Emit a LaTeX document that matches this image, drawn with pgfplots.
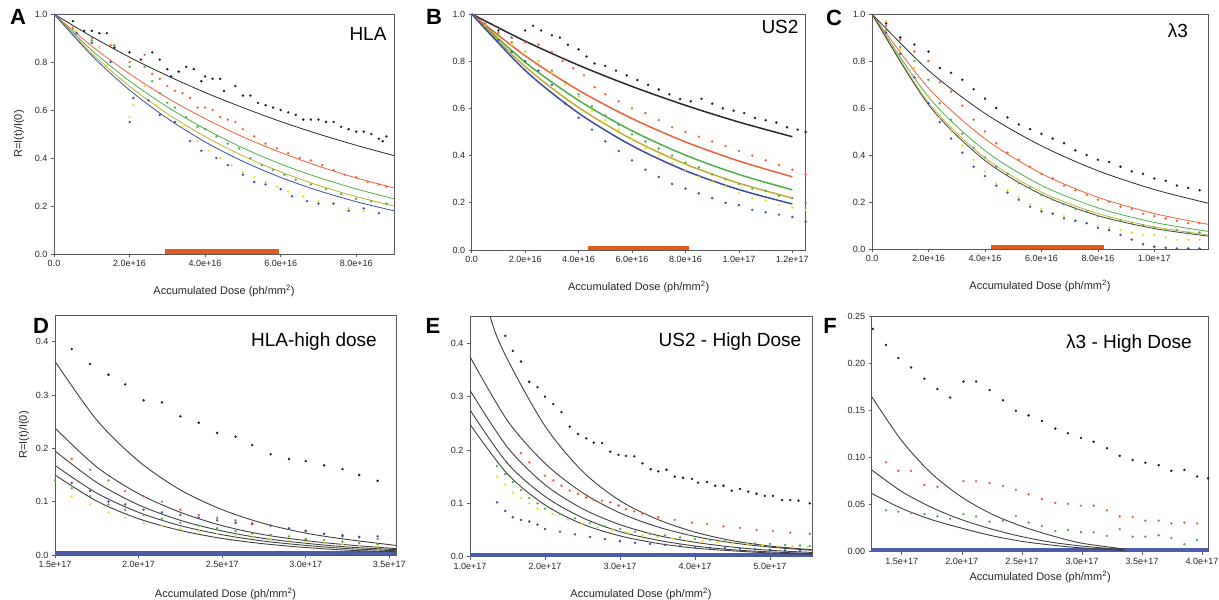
\documentclass[border=0pt]{standalone}
\usepackage{fontspec}
\setmainfont{Liberation Sans}
\usepackage{pgfplots}
\pgfplotsset{compat=1.18}

\definecolor{axgray}{HTML}{5A5A5A}
\definecolor{dotK}{HTML}{1E1E1E}
\definecolor{lineK}{HTML}{2A2A2A}
\definecolor{fitgray}{HTML}{404040}
\definecolor{redO}{HTML}{EC6139}
\definecolor{greenG}{HTML}{4DAF4A}
\definecolor{yelDot}{HTML}{EEDD22}
\definecolor{yelLine}{HTML}{C2AE2A}
\definecolor{blueB}{HTML}{3B4DA3}
\definecolor{barO}{HTML}{E35A1D}
\definecolor{bandB}{HTML}{4A5DA8}

\pgfplotsset{
  panel/.style={scale only axis, anchor=north west,
    axis line style={draw=axgray, line width=0.8pt},
    tick align=outside, tick pos=left, major tick length=3pt,
    tick style={draw=axgray, line width=0.6pt},
    tick label style={font=\fontsize{9}{10}\selectfont, text=black!85},
    label style={font=\fontsize{11}{12}\selectfont, text=black!85},
    xlabel={Accumulated Dose (ph/mm\textsuperscript{2})},
    xlabel style={yshift=-11pt}},
  fitline/.style={no marks, line width=0.8pt, smooth},
  dot/.style={only marks, mark=*, mark size=1pt},
  dfit/.style={no marks, draw=fitgray, line width=0.9pt, smooth}
}

\begin{document}
\begin{tikzpicture}
\useasboundingbox (0pt,0pt) rectangle (1219pt,600pt);

% ---------------- A : HLA ----------------
\begin{axis}[panel, at={(54pt,586pt)}, width=340pt, height=240pt,
  xmin=0, xmax=9, ymin=0, ymax=1,
  xtick={0,2,4,6,8}, xticklabels={0.0,2.0e+16,4.0e+16,6.0e+16,8.0e+16},
  ytick={0,0.2,0.4,0.6,0.8,1}, yticklabels={0.0,0.2,0.4,0.6,0.8,1.0},
  ylabel={R=I(t)/I(0)}, ylabel style={yshift=4pt}]
  \addplot[dot, color=dotK] coordinates {
    (0.5,0.97)(0.8,0.93)(1.0,0.93)(1.2,0.92)(1.4,0.92)(1.6,0.86)(2.0,0.84)(2.3,0.81)
    (2.6,0.84)(2.8,0.81)(3.0,0.77)(3.1,0.74)(3.3,0.76)(3.5,0.78)(3.7,0.77)(3.9,0.72)
    (4.0,0.74)(4.2,0.73)(4.4,0.73)(4.5,0.68)(4.8,0.70)(5.0,0.66)(5.2,0.66)(5.4,0.63)
    (5.6,0.62)(5.8,0.61)(6.0,0.60)(6.2,0.59)(6.4,0.58)(6.6,0.56)(6.8,0.56)(7.0,0.56)
    (7.2,0.55)(7.4,0.55)(7.6,0.53)(7.8,0.52)(8.0,0.51)(8.2,0.51)(8.4,0.50)(8.6,0.48)
    (8.7,0.47)(8.8,0.49)};
  \addplot[dot, color=redO] coordinates {
    (0.5,0.95)(1.0,0.90)(1.5,0.87)(2.0,0.80)(2.4,0.83)(2.6,0.75)(2.8,0.73)(3.0,0.70)
    (3.2,0.68)(3.4,0.67)(3.6,0.65)(3.8,0.61)(4.0,0.61)(4.2,0.60)(4.4,0.57)(4.6,0.56)
    (4.8,0.55)(5.0,0.52)(5.3,0.49)(5.6,0.46)(5.9,0.44)(6.2,0.42)(6.5,0.40)(6.8,0.39)
    (7.1,0.37)(7.4,0.35)(7.7,0.33)(8.0,0.32)(8.3,0.30)(8.6,0.29)(8.8,0.28)};
  \addplot[dot, color=greenG] coordinates {
    (0.5,0.94)(1.0,0.89)(1.6,0.87)(2.0,0.78)(2.4,0.78)(2.6,0.72)(2.8,0.67)(3.0,0.63)
    (3.2,0.61)(3.5,0.57)(3.8,0.53)(4.0,0.52)(4.3,0.49)(4.6,0.46)(4.9,0.44)(5.2,0.40)
    (5.5,0.37)(5.8,0.35)(6.1,0.33)(6.4,0.31)(6.8,0.29)(7.2,0.27)(7.6,0.25)(8.0,0.23)
    (8.4,0.22)(8.8,0.21)};
  \addplot[dot, color=yelDot] coordinates {
    (0.6,0.93)(1.2,0.86)(2.0,0.57)(2.1,0.62)(2.4,0.70)(2.7,0.62)(3.0,0.57)(3.4,0.53)
    (3.8,0.47)(4.1,0.43)(4.4,0.40)(4.7,0.37)(5.0,0.34)(5.3,0.32)(5.6,0.30)(5.9,0.28)
    (6.2,0.26)(6.6,0.24)(7.0,0.22)(7.4,0.21)(7.8,0.19)(8.2,0.18)(8.6,0.17)};
  \addplot[dot, color=blueB] coordinates {
    (0.6,0.92)(1.0,0.88)(1.5,0.80)(2.0,0.55)(2.1,0.65)(2.5,0.64)(2.8,0.58)(3.2,0.55)
    (3.6,0.47)(3.9,0.43)(4.3,0.40)(4.6,0.37)(5.0,0.33)(5.3,0.30)(5.6,0.29)(6.0,0.27)
    (6.3,0.24)(6.7,0.22)(7.0,0.21)(7.4,0.21)(7.8,0.18)(8.2,0.19)(8.6,0.17)};
  \addplot[fitline, draw=lineK] coordinates {
    (0,1)(1,0.906)(2,0.820)(3,0.743)(4,0.673)(5,0.610)(6,0.552)(7,0.500)(8,0.453)(9,0.410)};
  \addplot[fitline, draw=redO] coordinates {
    (0,1)(1,0.866)(2,0.751)(3,0.650)(4,0.564)(5,0.488)(6,0.423)(7,0.366)(8,0.317)(9,0.275)};
  \addplot[fitline, draw=greenG] coordinates {
    (0,1)(1,0.849)(2,0.721)(3,0.613)(4,0.521)(5,0.442)(6,0.375)(7,0.319)(8,0.271)(9,0.230)};
  \addplot[fitline, draw=yelLine] coordinates {
    (0,1)(1,0.836)(2,0.699)(3,0.585)(4,0.489)(5,0.409)(6,0.342)(7,0.286)(8,0.239)(9,0.200)};
  \addplot[fitline, draw=blueB] coordinates {
    (0,1)(1,0.827)(2,0.683)(3,0.565)(4,0.467)(5,0.386)(6,0.319)(7,0.264)(8,0.218)(9,0.180)};
  \addplot[no marks, draw=barO, line width=4.5pt] coordinates {(2.95,0.0095)(5.95,0.0095)};
\end{axis}

% ---------------- B : US2 ----------------
\begin{axis}[panel, at={(471.7pt,586pt)}, width=334pt, height=236pt,
  xmin=0, xmax=12.5, ymin=0, ymax=1,
  xtick={0,2,4,6,8,10,12},
  xticklabels={0.0,2.0e+16,4.0e+16,6.0e+16,8.0e+16,1.0e+17,1.2e+17},
  ytick={0,0.2,0.4,0.6,0.8,1}, yticklabels={0.0,0.2,0.4,0.6,0.8,1.0}]
  \addplot[dot, color=dotK] coordinates {
    (0.5,0.95)(1,0.93)(1.5,0.90)(2,0.93)(2.3,0.95)(2.6,0.93)(3,0.91)(3.3,0.90)(3.6,0.87)
    (4,0.85)(4.3,0.82)(4.6,0.79)(5,0.78)(5.4,0.76)(5.8,0.74)(6.2,0.72)(6.6,0.70)(7,0.68)
    (7.4,0.66)(7.8,0.64)(8.2,0.63)(8.6,0.64)(9,0.62)(9.4,0.60)(9.8,0.59)(10.2,0.58)
    (10.6,0.56)(11,0.55)(11.4,0.54)(11.8,0.52)(12.2,0.51)(12.5,0.50)};
  \addplot[dot, color=redO] coordinates {
    (0.5,0.96)(1,0.92)(1.5,0.90)(2,0.88)(2.5,0.87)(3,0.84)(3.4,0.80)(3.8,0.77)(4.2,0.74)
    (4.6,0.69)(5,0.66)(5.5,0.63)(6,0.60)(6.5,0.58)(7,0.55)(7.5,0.52)(8,0.50)(8.5,0.48)
    (9,0.46)(9.5,0.44)(10,0.42)(10.5,0.40)(11,0.38)(11.5,0.36)(12,0.34)(12.5,0.32)};
  \addplot[dot, color=greenG] coordinates {
    (0.5,0.95)(1,0.91)(1.5,0.88)(2,0.84)(2.5,0.80)(3,0.76)(3.5,0.71)(4,0.66)(4.5,0.61)
    (5,0.57)(5.5,0.53)(6,0.49)(6.5,0.46)(7,0.43)(7.5,0.40)(8,0.37)(8.5,0.35)(9,0.32)
    (9.5,0.30)(10,0.28)(10.5,0.26)(11,0.25)(11.5,0.23)(12,0.22)(12.5,0.20)};
  \addplot[dot, color=yelDot] coordinates {
    (0.5,0.95)(1,0.90)(1.5,0.87)(2,0.84)(2.5,0.80)(3,0.75)(3.5,0.70)(4,0.65)(4.5,0.59)
    (5,0.55)(5.5,0.51)(6,0.47)(6.5,0.43)(7,0.40)(7.5,0.37)(8,0.34)(8.5,0.31)(9,0.29)
    (9.5,0.27)(10,0.24)(10.5,0.22)(11,0.21)(11.5,0.19)(12,0.18)(12.5,0.17)};
  \addplot[dot, color=blueB] coordinates {
    (0.5,0.94)(1,0.89)(1.5,0.84)(2,0.80)(2.5,0.76)(3,0.70)(3.5,0.62)(4,0.56)(4.5,0.51)
    (5,0.46)(5.5,0.42)(6,0.38)(6.5,0.34)(7,0.31)(7.5,0.28)(8,0.26)(8.5,0.24)(9,0.22)
    (9.5,0.20)(10,0.19)(10.5,0.17)(11,0.16)(11.5,0.15)(12,0.14)(12.5,0.12)};
  \addplot[fitline, line width=1.5pt, draw=lineK] coordinates {
    (0,1)(2,0.885)(4,0.783)(6,0.693)(8,0.613)(10,0.542)(12,0.480)};
  \addplot[fitline, line width=1.5pt, draw=redO] coordinates {
    (0,1)(2,0.823)(4,0.677)(6,0.557)(8,0.458)(10,0.377)(12,0.310)};
  \addplot[fitline, line width=1.5pt, draw=greenG] coordinates {
    (0,1)(2,0.796)(4,0.634)(6,0.505)(8,0.402)(10,0.320)(12,0.255)};
  \addplot[fitline, line width=1.5pt, draw=yelLine] coordinates {
    (0,1)(2,0.777)(4,0.604)(6,0.469)(8,0.364)(10,0.283)(12,0.220)};
  \addplot[fitline, line width=1.5pt, draw=blueB] coordinates {
    (0,1)(2,0.761)(4,0.580)(6,0.442)(8,0.336)(10,0.256)(12,0.195)};
  \addplot[no marks, draw=barO, line width=4.5pt] coordinates {(4.35,0.0095)(8.12,0.0095)};
\end{axis}

% ---------------- C : lambda3 ----------------
\begin{axis}[panel, at={(872pt,586pt)}, width=336pt, height=235pt,
  xmin=0, xmax=11.9, ymin=0, ymax=1,
  xtick={0,2,4,6,8,10},
  xticklabels={0.0,2.0e+16,4.0e+16,6.0e+16,8.0e+16,1.0e+17},
  ytick={0,0.2,0.4,0.6,0.8,1}, yticklabels={0.0,0.2,0.4,0.6,0.8,1.0}]
  \addplot[dot, color=dotK] coordinates {
    (0.5,0.96)(1,0.90)(1.5,0.87)(2,0.84)(2.4,0.77)(2.8,0.75)(3.2,0.72)(3.6,0.68)(4,0.64)
    (4.4,0.60)(4.8,0.56)(5.2,0.53)(5.6,0.51)(6,0.49)(6.4,0.47)(6.8,0.45)(7.2,0.42)
    (7.6,0.40)(8,0.38)(8.4,0.37)(8.8,0.35)(9.2,0.33)(9.6,0.32)(10,0.30)(10.4,0.29)
    (10.8,0.27)(11.2,0.26)(11.6,0.25)};
  \addplot[dot, color=redO] coordinates {
    (0.5,0.95)(1,0.89)(1.5,0.84)(2,0.80)(2.4,0.71)(2.8,0.67)(3.2,0.61)(3.6,0.55)(4,0.50)
    (4.4,0.45)(4.8,0.41)(5.2,0.38)(5.6,0.35)(6,0.32)(6.4,0.30)(6.8,0.27)(7.2,0.25)
    (7.6,0.23)(8,0.21)(8.4,0.20)(8.8,0.18)(9.2,0.17)(9.6,0.15)(10,0.14)(10.4,0.13)
    (10.8,0.12)(11.2,0.11)(11.6,0.11)};
  \addplot[dot, color=greenG] coordinates {
    (0.5,0.93)(1,0.86)(1.5,0.80)(2,0.72)(2.4,0.62)(2.8,0.55)(3.2,0.49)(3.6,0.43)(4,0.39)
    (4.4,0.35)(4.8,0.32)(5.2,0.28)(5.6,0.26)(6,0.23)(6.4,0.21)(6.8,0.19)(7.2,0.17)
    (7.6,0.16)(8,0.14)(8.4,0.13)(8.8,0.12)(9.2,0.11)(9.6,0.10)(10,0.09)(10.4,0.08)
    (10.8,0.08)(11.2,0.07)(11.6,0.07)};
  \addplot[dot, color=yelDot] coordinates {
    (0.5,0.97)(1,0.85)(1.5,0.77)(2,0.65)(2.4,0.56)(2.8,0.50)(3.2,0.44)(3.6,0.38)(4,0.33)
    (4.4,0.28)(4.8,0.25)(5.2,0.22)(5.6,0.19)(6,0.17)(6.4,0.15)(6.8,0.14)(7.2,0.12)
    (7.6,0.11)(8,0.10)(8.4,0.09)(8.8,0.08)(9.2,0.07)(9.6,0.06)(10,0.06)(10.4,0.05)
    (10.8,0.04)(11.2,0.04)(11.6,0.04)};
  \addplot[dot, color=blueB] coordinates {
    (0.5,0.92)(1,0.83)(1.5,0.73)(2,0.62)(2.4,0.54)(2.8,0.47)(3.2,0.41)(3.6,0.35)(4,0.31)
    (4.4,0.27)(4.8,0.24)(5.2,0.21)(5.6,0.18)(6,0.16)(6.4,0.15)(6.8,0.13)(7.2,0.12)
    (7.6,0.11)(8,0.09)(8.4,0.08)(8.8,0.06)(9.2,0.04)(9.6,0.02)(10,0.01)(10.4,0.005)
    (10.8,0.002)(11.2,0.002)(11.6,0.002)};
  \addplot[fitline, draw=lineK] coordinates {
    (0,1)(2,0.760)(4,0.577)(6,0.439)(8,0.333)(10,0.253)(11.9,0.195)};
  \addplot[fitline, draw=redO] coordinates {
    (0,1)(2,0.685)(4,0.469)(6,0.321)(8,0.220)(10,0.151)(11.9,0.105)};
  \addplot[fitline, draw=greenG] coordinates {
    (0,1)(2,0.647)(4,0.419)(6,0.271)(8,0.175)(10,0.113)(11.9,0.075)};
  \addplot[fitline, draw=yelLine] coordinates {
    (0,1)(2,0.623)(4,0.388)(6,0.242)(8,0.151)(10,0.094)(11.9,0.060)};
  \addplot[fitline, draw=fitgray] coordinates {
    (0,1)(2,0.614)(4,0.377)(6,0.232)(8,0.142)(10,0.087)(11.9,0.055)};
  \addplot[no marks, draw=barO, line width=4.5pt] coordinates {(4.2,0.0095)(8.2,0.0095)};
\end{axis}

% ---------------- D : HLA high dose ----------------
\begin{axis}[panel, at={(55pt,285pt)}, width=341pt, height=240pt,
  xmin=1.5, xmax=3.54, ymin=0, ymax=0.45,
  xtick={1.5,2,2.5,3,3.5},
  xticklabels={1.5e+17,2.0e+17,2.5e+17,3.0e+17,3.5e+17},
  ytick={0,0.1,0.2,0.3,0.4}, yticklabels={0.0,0.1,0.2,0.3,0.4},
  ylabel={R=I(t)/I(0)}, xlabel style={yshift=-2pt}]
  \addplot[no marks, draw=bandB, line width=4pt] coordinates {(1.5,0.0042)(3.54,0.0042)};
  \addplot[dot, color=dotK] coordinates {
    (1.60,0.386)(1.71,0.358)(1.82,0.338)(1.92,0.320)(2.03,0.290)(2.14,0.286)(2.25,0.260)
    (2.36,0.248)(2.47,0.229)(2.58,0.222)(2.68,0.206)(2.79,0.189)(2.90,0.180)(3.00,0.176)
    (3.11,0.168)(3.22,0.161)(3.32,0.150)(3.43,0.139)};
  \addplot[dot, color=redO] coordinates {
    (1.60,0.180)(1.71,0.160)(1.82,0.140)(1.92,0.120)(2.03,0.110)(2.14,0.100)(2.25,0.085)
    (2.36,0.075)(2.47,0.070)(2.58,0.065)(2.68,0.060)(2.79,0.055)(2.90,0.050)(3.00,0.045)
    (3.11,0.040)(3.22,0.035)(3.32,0.033)(3.43,0.030)};
  \addplot[dot, color=blueB] coordinates {
    (1.60,0.135)(1.71,0.120)(1.82,0.100)(1.92,0.095)(2.03,0.085)(2.14,0.080)(2.25,0.075)
    (2.36,0.070)(2.47,0.065)(2.58,0.060)(2.68,0.058)(2.79,0.055)(2.90,0.050)(3.00,0.045)
    (3.11,0.040)(3.22,0.037)(3.32,0.034)(3.43,0.035)};
  \addplot[dot, color=greenG] coordinates {
    (1.50,0.140)(1.60,0.125)(1.71,0.110)(1.82,0.095)(1.92,0.085)(2.03,0.075)(2.14,0.068)
    (2.25,0.060)(2.36,0.055)(2.47,0.050)(2.58,0.045)(2.68,0.040)(2.79,0.038)(2.90,0.035)
    (3.00,0.030)(3.11,0.028)(3.22,0.025)(3.32,0.022)(3.43,0.020)};
  \addplot[dot, color=yelDot] coordinates {
    (1.60,0.110)(1.71,0.095)(1.82,0.080)(1.92,0.070)(2.03,0.060)(2.14,0.055)(2.25,0.050)
    (2.36,0.045)(2.47,0.040)(2.58,0.036)(2.68,0.033)(2.79,0.030)(2.90,0.027)(3.00,0.024)
    (3.11,0.022)(3.22,0.020)(3.32,0.018)(3.43,0.016)};
  \addplot[dfit] coordinates {
    (1.5,0.363)(1.75,0.253)(2.0,0.176)(2.25,0.122)(2.5,0.085)(2.75,0.059)(3.0,0.041)(3.25,0.029)(3.54,0.018)};
  \addplot[dfit] coordinates {
    (1.5,0.238)(1.75,0.165)(2.0,0.115)(2.25,0.080)(2.5,0.055)(2.75,0.038)(3.0,0.027)(3.25,0.019)(3.54,0.012)};
  \addplot[dfit] coordinates {
    (1.5,0.195)(1.75,0.136)(2.0,0.094)(2.25,0.065)(2.5,0.045)(2.75,0.031)(3.0,0.022)(3.25,0.015)(3.54,0.010)};
  \addplot[dfit] coordinates {
    (1.5,0.168)(1.75,0.116)(2.0,0.080)(2.25,0.055)(2.5,0.038)(2.75,0.026)(3.0,0.018)(3.25,0.012)(3.54,0.008)};
  \addplot[dfit] coordinates {
    (1.5,0.150)(1.75,0.101)(2.0,0.068)(2.25,0.046)(2.5,0.031)(2.75,0.021)(3.0,0.014)(3.25,0.009)(3.54,0.006)};
\end{axis}

% ---------------- E : US2 high dose ----------------
\begin{axis}[panel, at={(470pt,283.3pt)}, width=342pt, height=240pt,
  xmin=1, xmax=5.56, ymin=0, ymax=0.45,
  xtick={1,2,3,4,5},
  xticklabels={1.0e+17,2.0e+17,3.0e+17,4.0e+17,5.0e+17},
  ytick={0,0.1,0.2,0.3,0.4}, yticklabels={0.0,0.1,0.2,0.3,0.4},
  xlabel style={yshift=-1pt}]
  \addplot[no marks, draw=bandB, line width=4pt] coordinates {(1,0.0038)(5.56,0.0038)};
  \addplot[dot, color=dotK] coordinates {
    (1.36,0.452)(1.47,0.414)(1.57,0.386)(1.68,0.366)(1.79,0.328)(1.90,0.318)(2.00,0.300)
    (2.11,0.286)(2.22,0.271)(2.33,0.244)(2.44,0.230)(2.55,0.222)(2.65,0.214)(2.76,0.213)
    (2.87,0.197)(2.98,0.191)(3.08,0.189)(3.19,0.188)(3.30,0.175)(3.41,0.164)(3.51,0.160)
    (3.62,0.163)(3.73,0.150)(3.84,0.148)(3.96,0.146)(4.04,0.139)(4.16,0.140)(4.27,0.133)
    (4.38,0.133)(4.49,0.124)(4.60,0.127)(4.71,0.122)(4.82,0.118)(4.93,0.114)(5.04,0.114)
    (5.16,0.106)(5.27,0.106)(5.38,0.105)(5.53,0.100)};
  \addplot[dot, color=redO] coordinates {
    (1.68,0.194)(1.79,0.177)(2.00,0.152)(2.11,0.143)(2.22,0.133)(2.33,0.124)(2.44,0.118)
    (2.55,0.111)(2.65,0.106)(2.76,0.105)(2.87,0.102)(2.98,0.096)(3.08,0.089)(3.19,0.085)
    (3.30,0.081)(3.51,0.074)(3.73,0.069)(3.96,0.064)(4.16,0.061)(4.38,0.057)(4.60,0.054)
    (4.82,0.050)(5.04,0.048)(5.27,0.045)(5.53,0.043)};
  \addplot[dot, color=greenG] coordinates {
    (1.36,0.170)(1.47,0.155)(1.57,0.140)(1.68,0.125)(1.79,0.110)(1.90,0.100)(2.00,0.090)
    (2.20,0.080)(2.40,0.072)(2.60,0.063)(2.80,0.057)(3.00,0.052)(3.20,0.047)(3.40,0.043)
    (3.60,0.040)(3.80,0.036)(4.00,0.033)(4.20,0.031)(4.40,0.029)(4.60,0.027)(4.80,0.025)
    (5.00,0.024)(5.20,0.022)(5.40,0.021)(5.53,0.020)};
  \addplot[dot, color=yelDot] coordinates {
    (1.36,0.150)(1.47,0.135)(1.57,0.120)(1.68,0.110)(1.79,0.100)(1.90,0.090)(2.10,0.080)
    (2.30,0.070)(2.50,0.062)(2.70,0.055)(2.90,0.050)(3.10,0.045)(3.30,0.040)(3.50,0.037)
    (3.70,0.034)(3.90,0.031)(4.10,0.029)(4.30,0.027)(4.50,0.025)(4.70,0.023)(4.90,0.021)
    (5.10,0.020)(5.30,0.019)(5.50,0.018)};
  \addplot[dot, color=blueB] coordinates {
    (1.36,0.102)(1.47,0.086)(1.57,0.074)(1.68,0.069)(1.79,0.066)(1.90,0.060)(2.00,0.052)
    (2.20,0.047)(2.40,0.042)(2.60,0.037)(2.80,0.033)(3.00,0.029)(3.20,0.026)(3.40,0.024)
    (3.60,0.022)(3.80,0.020)(4.00,0.018)(4.20,0.017)(4.40,0.016)(4.60,0.015)(4.80,0.014)
    (5.00,0.013)(5.20,0.012)(5.40,0.011)};
  \addplot[dfit] coordinates {
    (1.0,0.62)(1.27,0.45)(1.5,0.37)(2.0,0.245)(2.5,0.160)(3.0,0.105)(3.5,0.070)(4.0,0.046)(4.5,0.030)(5.0,0.020)(5.56,0.013)};
  \addplot[dfit] coordinates {
    (1.0,0.375)(1.5,0.255)(2.0,0.175)(2.5,0.120)(3.0,0.082)(3.5,0.056)(4.0,0.038)(4.5,0.026)(5.0,0.018)(5.56,0.012)};
  \addplot[dfit] coordinates {
    (1.0,0.312)(1.5,0.205)(2.0,0.135)(2.5,0.090)(3.0,0.060)(3.5,0.040)(4.0,0.027)(4.5,0.018)(5.0,0.012)(5.56,0.008)};
  \addplot[dfit] coordinates {
    (1.0,0.275)(1.5,0.175)(2.0,0.113)(2.5,0.073)(3.0,0.047)(3.5,0.031)(4.0,0.020)(4.5,0.013)(5.0,0.009)(5.56,0.006)};
  \addplot[dfit] coordinates {
    (1.0,0.248)(1.5,0.155)(2.0,0.097)(2.5,0.061)(3.0,0.039)(3.5,0.025)(4.0,0.016)(4.5,0.011)(5.0,0.007)(5.56,0.005)};
\end{axis}

% ---------------- F : lambda3 high dose ----------------
\begin{axis}[panel, at={(871.7pt,283.3pt)}, width=337pt, height=235pt,
  xmin=1.25, xmax=4.055, ymin=0, ymax=0.25,
  xtick={1.5,2,2.5,3,3.5,4},
  xticklabels={1.5e+17,2.0e+17,2.5e+17,3.0e+17,3.5e+17,4.0e+17},
  ytick={0,0.05,0.1,0.15,0.2,0.25},
  yticklabels={0.00,0.05,0.10,0.15,0.20,0.25},
  xlabel style={yshift=11pt}]
  \addplot[no marks, draw=bandB, line width=4pt] coordinates {(1.25,0.0022)(4.055,0.0022)};
  \addplot[dot, color=dotK] coordinates {
    (1.258,0.237)(1.369,0.220)(1.472,0.206)(1.578,0.196)(1.689,0.184)(1.797,0.173)
    (1.903,0.164)(2.014,0.181)(2.119,0.181)(2.231,0.172)(2.342,0.161)(2.450,0.150)
    (2.556,0.145)(2.667,0.139)(2.778,0.131)(2.883,0.126)(2.992,0.121)(3.097,0.117)
    (3.208,0.110)(3.314,0.102)(3.422,0.0975)(3.528,0.0946)(3.639,0.092)(3.744,0.086)
    (3.853,0.087)(3.958,0.080)(4.050,0.078)};
  \addplot[dot, color=redO] coordinates {
    (1.369,0.095)(1.472,0.086)(1.578,0.086)(1.689,0.071)(1.797,0.069)(2.014,0.075)
    (2.119,0.075)(2.231,0.073)(2.342,0.070)(2.450,0.066)(2.556,0.061)(2.667,0.056)
    (2.778,0.052)(2.883,0.051)(2.992,0.049)(3.097,0.049)(3.208,0.044)(3.314,0.0375)
    (3.422,0.037)(3.528,0.033)(3.639,0.033)(3.744,0.030)(3.853,0.031)(3.958,0.030)};
  \addplot[dot, color=greenG!75!gray] coordinates {
    (1.369,0.044)(1.472,0.0425)(1.578,0.041)(1.689,0.040)(1.797,0.0375)(1.903,0.035)
    (2.014,0.040)(2.119,0.0375)(2.231,0.032)(2.342,0.033)(2.450,0.038)(2.556,0.031)
    (2.667,0.0275)(2.778,0.022)(2.883,0.023)(2.992,0.0207)(3.097,0.0207)(3.208,0.0168)
    (3.314,0.024)(3.422,0.016)(3.528,0.016)(3.639,0.0175)(3.744,0.0146)(3.853,0.0079)
    (3.958,0.0125)};
  \addplot[dfit] coordinates {
    (1.25,0.165)(1.5,0.118)(1.75,0.083)(2.0,0.058)(2.25,0.040)(2.5,0.027)(2.75,0.017)(3.0,0.009)(3.35,0.003)};
  \addplot[dfit] coordinates {
    (1.25,0.087)(1.5,0.064)(1.75,0.047)(2.0,0.034)(2.25,0.024)(2.5,0.016)(2.75,0.010)(3.0,0.006)(3.35,0.002)};
  \addplot[dfit] coordinates {
    (1.25,0.062)(1.5,0.046)(1.75,0.034)(2.0,0.025)(2.25,0.017)(2.5,0.011)(2.75,0.007)(3.0,0.004)(3.35,0.0015)};
\end{axis}

% panel letters and titles
\begin{scope}[every node/.style={font=\bfseries\fontsize{22}{22}\selectfont}]
  \node at (18pt,583pt) {A};
  \node at (434pt,583pt) {B};
  \node at (834pt,582pt) {C};
  \node at (41pt,274pt) {D};
  \node at (433pt,274pt) {E};
  \node at (830pt,274pt) {F};
\end{scope}
\begin{scope}[every node/.style={font=\fontsize{19}{20}\selectfont}]
  \node at (368pt,566pt) {HLA};
  \node at (780pt,573pt) {US2};
  \node at (1178pt,569pt) {λ3};
  \node at (314pt,258pt) {HLA-high dose};
  \node at (730pt,258pt) {US2 - High Dose};
  \node at (1129pt,256pt) {λ3 - High Dose};
\end{scope}
\end{tikzpicture}
\end{document}
